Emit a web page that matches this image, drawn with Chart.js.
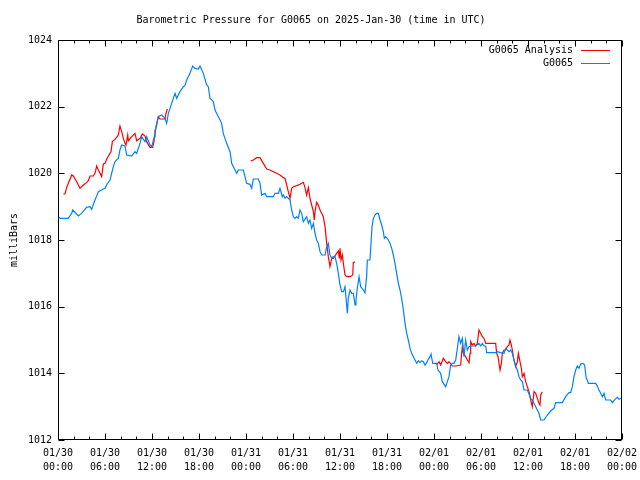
<!DOCTYPE html>
<html>
<head>
<meta charset="utf-8">
<script src="https://cdn.jsdelivr.net/npm/chart.js@4"></script>
<style>
html,body{margin:0;padding:0;background:#fff;}
canvas{display:block;}
</style>
</head>
<body>
<canvas id="c" width="640" height="480"></canvas>
<script>
// Tick labels for the x axis (every 6 hours from 2025-01-30 00:00 UTC)
const xTickLabels = [
  ['01/30','00:00'],['01/30','06:00'],['01/30','12:00'],['01/30','18:00'],
  ['01/31','00:00'],['01/31','06:00'],['01/31','12:00'],['01/31','18:00'],
  ['02/01','00:00'],['02/01','06:00'],['02/01','12:00'],['02/01','18:00'],
  ['02/02','00:00']
];
const yTickValues = [1012,1014,1016,1018,1020,1022,1024];

// G0065 observed (hours since 01/30 00:00)
const obsHours = [0.0,0.3,1.3,1.75,1.88,2.6,3.0,3.66,4.09,4.3,4.72,4.94,5.15,5.57,6.0,6.2,6.64,7.06,7.28,7.7,7.91,8.13,8.55,8.77,9.4,9.83,10.04,10.47,10.68,11.1,11.32,11.74,11.96,12.3,12.38,12.6,12.8,13.24,13.66,13.87,14.09,14.51,14.94,15.15,15.57,16.0,16.21,16.43,16.85,17.19,17.49,17.91,18.13,18.55,18.98,19.19,19.4,19.83,20.04,20.47,20.89,21.1,21.53,21.96,22.17,22.6,22.81,23.02,23.66,23.87,24.09,24.51,24.72,24.94,25.57,25.79,26.0,26.43,26.64,27.49,27.7,28.13,28.34,28.64,28.77,28.98,29.19,29.62,29.83,30.04,30.26,30.47,30.68,30.89,31.11,31.32,31.74,31.96,32.17,32.38,32.6,32.81,33.02,33.23,33.45,33.66,34.09,34.3,34.51,34.72,34.94,35.15,35.36,35.57,35.79,36.0,36.21,36.43,36.64,36.85,36.94,37.06,37.28,37.49,37.7,37.92,38.04,38.21,38.43,38.64,38.98,39.19,39.4,39.49,39.83,39.96,40.09,40.26,40.47,40.68,40.89,41.11,41.32,41.53,41.66,41.83,42.17,42.38,42.6,42.81,43.02,43.23,43.45,43.66,43.87,44.09,44.3,44.51,44.72,44.94,45.15,45.36,45.57,45.79,46.0,46.21,46.43,46.64,46.85,47.06,47.28,47.49,47.62,47.83,48.09,48.34,48.51,48.85,49.06,49.49,49.91,50.13,50.34,50.55,50.77,50.98,51.19,51.4,51.62,51.83,52.04,52.26,52.47,52.68,53.32,53.74,53.96,54.17,54.38,54.6,54.72,55.87,56.09,56.51,56.94,57.15,57.36,57.57,57.79,58.0,58.21,58.43,58.64,58.85,59.06,59.28,59.49,59.91,60.13,60.34,60.55,60.98,61.4,61.62,62.04,62.47,62.89,63.32,63.53,64.38,64.81,65.23,65.45,65.66,65.87,66.09,66.3,66.51,66.72,67.02,67.23,67.43,67.57,67.7,68.64,68.85,69.06,69.28,69.49,69.7,69.91,70.55,70.77,71.11,71.4,71.62,71.83];
const obsValues = [1018.70,1018.65,1018.65,1018.80,1018.90,1018.72,1018.80,1018.98,1019.00,1018.92,1019.20,1019.32,1019.45,1019.50,1019.55,1019.65,1019.80,1020.20,1020.35,1020.45,1020.70,1020.85,1020.82,1020.55,1020.52,1020.65,1020.60,1020.90,1021.10,1020.95,1021.10,1020.85,1020.80,1021.10,1021.28,1021.45,1021.70,1021.75,1021.65,1021.50,1021.80,1022.10,1022.40,1022.25,1022.45,1022.60,1022.63,1022.80,1023.00,1023.22,1023.15,1023.13,1023.22,1023.00,1022.65,1022.60,1022.25,1022.15,1021.90,1021.70,1021.50,1021.20,1020.90,1020.65,1020.30,1020.10,1020.00,1020.10,1020.10,1019.90,1019.70,1019.67,1019.55,1019.83,1019.83,1019.70,1019.35,1019.40,1019.30,1019.30,1019.40,1019.40,1019.55,1019.30,1019.35,1019.25,1019.30,1019.20,1018.90,1018.70,1018.65,1018.70,1018.65,1018.90,1018.80,1018.55,1018.70,1018.50,1018.60,1018.35,1018.50,1018.20,1018.00,1017.90,1017.65,1017.55,1017.55,1017.80,1017.90,1017.55,1017.45,1017.50,1017.50,1017.30,1017.00,1016.65,1016.45,1016.45,1016.60,1016.05,1015.80,1016.25,1016.50,1016.40,1016.40,1016.05,1016.20,1016.55,1016.90,1016.60,1016.50,1016.42,1016.90,1017.40,1017.40,1017.90,1018.40,1018.65,1018.75,1018.80,1018.80,1018.60,1018.45,1018.25,1018.05,1018.10,1018.00,1017.90,1017.75,1017.55,1017.30,1017.00,1016.70,1016.50,1016.25,1015.90,1015.50,1015.20,1015.00,1014.75,1014.60,1014.50,1014.40,1014.30,1014.38,1014.32,1014.38,1014.35,1014.25,1014.32,1014.42,1014.50,1014.58,1014.30,1014.30,1014.30,1014.10,1014.00,1013.75,1013.60,1013.90,1014.25,1014.30,1014.30,1014.40,1014.75,1015.10,1014.90,1015.05,1014.50,1015.00,1014.70,1014.80,1014.82,1014.82,1014.90,1014.82,1014.90,1014.82,1014.82,1014.62,1014.62,1014.65,1014.62,1014.60,1014.75,1014.70,1014.65,1014.70,1014.60,1014.40,1014.20,1014.10,1013.90,1013.80,1013.75,1013.50,1013.50,1013.38,1013.25,1013.20,1013.00,1012.80,1012.60,1012.60,1012.75,1012.87,1012.95,1013.12,1013.12,1013.30,1013.42,1013.42,1013.60,1013.90,1014.10,1014.22,1014.15,1014.28,1014.30,1014.25,1013.85,1013.80,1013.70,1013.70,1013.62,1013.50,1013.40,1013.30,1013.40,1013.20,1013.20,1013.12,1013.22,1013.28,1013.22,1013.25];

// G0065 Analysis (null = gap between analysis runs)
const anaHours = [0.68,0.89,1.11,1.4,1.75,1.96,2.38,2.81,3.23,3.66,3.87,4.09,4.51,4.72,4.94,5.15,5.36,5.57,5.79,6.0,6.21,6.51,6.77,6.94,7.28,7.7,7.91,8.13,8.34,8.55,8.68,8.9,8.98,9.32,9.83,10.04,10.47,10.77,11.11,11.32,11.74,12.08,12.25,12.51,12.81,13.02,13.66,13.79,13.96,
  18.0,
  24.6,24.94,25.36,25.79,26.21,26.64,27.06,27.49,27.92,28.34,28.77,28.98,29.19,29.4,29.62,29.83,30.04,30.47,30.89,31.32,31.53,31.74,31.96,32.17,32.38,32.6,32.72,32.81,33.02,33.23,33.45,33.66,33.87,34.09,34.3,34.51,34.72,34.94,35.15,35.57,35.79,35.91,36.0,36.13,36.3,36.43,36.64,36.85,37.28,37.62,37.7,37.92,
  43.0,
  48.34,48.64,48.85,49.19,49.49,49.7,49.91,50.34,50.77,51.4,51.49,51.62,51.75,52.04,52.26,52.47,52.6,52.68,52.89,53.11,53.32,53.53,53.74,53.96,54.17,54.38,54.6,55.87,56.0,56.17,56.3,56.43,56.6,56.72,56.94,57.15,57.36,57.57,57.7,57.87,58.0,58.21,58.43,58.64,58.77,58.98,59.15,59.28,59.49,59.7,59.91,60.13,60.34,60.55,60.77,60.98,61.19,61.4,61.53,61.62,61.83];
const anaValues = [1019.38,1019.38,1019.58,1019.75,1019.95,1019.92,1019.75,1019.55,1019.65,1019.72,1019.78,1019.92,1019.92,1020.00,1020.22,1020.10,1020.00,1019.90,1020.28,1020.30,1020.42,1020.55,1020.65,1020.95,1021.02,1021.15,1021.42,1021.25,1021.05,1020.90,1020.85,1021.15,1020.98,1021.08,1021.20,1020.98,1021.05,1021.18,1021.12,1020.95,1020.78,1020.78,1020.95,1021.40,1021.70,1021.63,1021.63,1021.80,1021.93,
  null,
  1020.37,1020.40,1020.47,1020.47,1020.30,1020.13,1020.10,1020.05,1020.00,1019.95,1019.87,1019.85,1019.65,1019.45,1019.25,1019.55,1019.60,1019.63,1019.67,1019.73,1019.57,1019.35,1019.57,1019.25,1019.05,1018.85,1018.60,1018.85,1019.13,1019.05,1018.90,1018.80,1018.70,1018.40,1017.90,1017.50,1017.20,1017.45,1017.45,1017.60,1017.67,1017.45,1017.75,1017.40,1017.55,1017.30,1016.95,1016.90,1016.90,1016.95,1017.32,1017.35,
  null,
  1014.25,1014.35,1014.25,1014.45,1014.35,1014.30,1014.35,1014.22,1014.22,1014.25,1014.50,1014.80,1014.60,1014.50,1014.40,1014.32,1014.60,1014.95,1014.85,1014.90,1014.82,1014.90,1015.30,1015.20,1015.10,1015.05,1014.90,1014.90,1014.60,1014.50,1014.30,1014.10,1014.30,1014.60,1014.70,1014.70,1014.80,1014.85,1015.00,1014.85,1014.70,1014.40,1014.20,1014.35,1014.60,1014.35,1014.15,1013.90,1014.00,1013.75,1013.60,1013.45,1013.20,1013.00,1013.45,1013.40,1013.25,1013.10,1013.05,1013.35,1013.45];

const seriesNames = ['G0065 Analysis','G0065'];
const seriesColors = ['#ff0000','#0080ff'];
const FONT = "'DejaVu Sans Mono', 'Liberation Mono', monospace";

const toXY = (xs, ys) => xs.map((h, i) => ({x: h, y: ys[i]}));

const framePlugin = {
  id: 'frame',
  afterDraw(chart) {
    const {ctx, chartArea: a, scales: {x, y}} = chart;
    ctx.save();
    ctx.strokeStyle = '#000';
    ctx.lineWidth = 1;
    const L = Math.round(a.left) + 0.5, R = Math.round(a.right) - 0.5;
    const T = Math.round(a.top) + 0.5, B = Math.round(a.bottom) - 0.5;
    ctx.beginPath();
    // x ticks: major every 6 h, minor every 2 h, mirrored on top
    for (let h = 0; h <= 72; h += 2) {
      const px = Math.round(x.getPixelForValue(h)) + 0.5;
      const len = (h % 6 === 0) ? 6 : 3;
      ctx.moveTo(px, B); ctx.lineTo(px, B - len);
      ctx.moveTo(px, T); ctx.lineTo(px, T + len);
    }
    yTickValues.forEach(v => {
      const py = Math.round(y.getPixelForValue(v)) + 0.5;
      ctx.moveTo(L, py); ctx.lineTo(L + 6, py);
      ctx.moveTo(R, py); ctx.lineTo(R - 6, py);
    });
    ctx.stroke();
    ctx.strokeRect(L, T, R - L, B - T);

    // legend (text right-aligned, line sample to its right)
    ctx.font = '10px ' + FONT;
    ctx.fillStyle = '#000';
    ctx.textAlign = 'right';
    ctx.textBaseline = 'middle';
    const rows = [50, 63];
    seriesNames.forEach((n, i) => {
      ctx.fillText(n, 573, rows[i]);
      ctx.strokeStyle = seriesColors[i];
      ctx.beginPath();
      ctx.moveTo(581, rows[i] + 0.5);
      ctx.lineTo(610, rows[i] + 0.5);
      ctx.stroke();
    });
    ctx.restore();
  }
};

new Chart(document.getElementById('c'), {
  type: 'line',
  data: {
    datasets: [
      {
        label: seriesNames[1],
        data: toXY(obsHours, obsValues),
        borderColor: seriesColors[1],
        borderWidth: 1.2,
        pointRadius: 0,
        tension: 0,
        fill: false
      },
      {
        label: seriesNames[0],
        data: toXY(anaHours, anaValues),
        borderColor: seriesColors[0],
        borderWidth: 1.2,
        pointRadius: 0,
        tension: 0,
        fill: false,
        spanGaps: false
      }
    ]
  },
  options: {
    responsive: false,
    animation: false,
    devicePixelRatio: 1,
    layout: {padding: {left: 0, right: 18, top: 0, bottom: 0}},
    plugins: {
      legend: {display: false},
      tooltip: {enabled: false},
      title: {
        display: true,
        text: 'Barometric Pressure for G0065 on 2025-Jan-30 (time in UTC)',
        color: '#000',
        font: {family: FONT, size: 10, weight: 'normal'},
        padding: {top: 14, bottom: 14}
      }
    },
    scales: {
      x: {
        type: 'linear',
        min: 0, max: 72,
        grid: {display: false, drawTicks: false},
        border: {display: false},
        afterFit: s => { s.height = 40; s.paddingLeft = 0; s.paddingRight = 0; },
        afterBuildTicks: s => { s.ticks = xTickLabels.map((_, i) => ({value: i * 6})); },
        ticks: {
          autoSkip: false, maxRotation: 0, padding: 6,
          color: '#000',
          font: {family: FONT, size: 10, lineHeight: 1.4},
          callback: (v) => xTickLabels[Math.round(v / 6)]
        }
      },
      y: {
        min: 1012, max: 1024,
        grid: {display: false, drawTicks: false},
        border: {display: false},
        afterFit: s => { s.width = 58; s.paddingTop = 0; s.paddingBottom = 0; },
        afterBuildTicks: s => { s.ticks = yTickValues.map(v => ({value: v})); },
        ticks: {
          padding: 6, color: '#000',
          font: {family: FONT, size: 10},
          callback: v => String(v)
        },
        title: {
          display: true, text: 'milliBars', color: '#000',
          font: {family: FONT, size: 10},
          padding: {top: 8, bottom: 0}
        }
      }
    }
  },
  plugins: [framePlugin]
});
</script>
</body>
</html>
